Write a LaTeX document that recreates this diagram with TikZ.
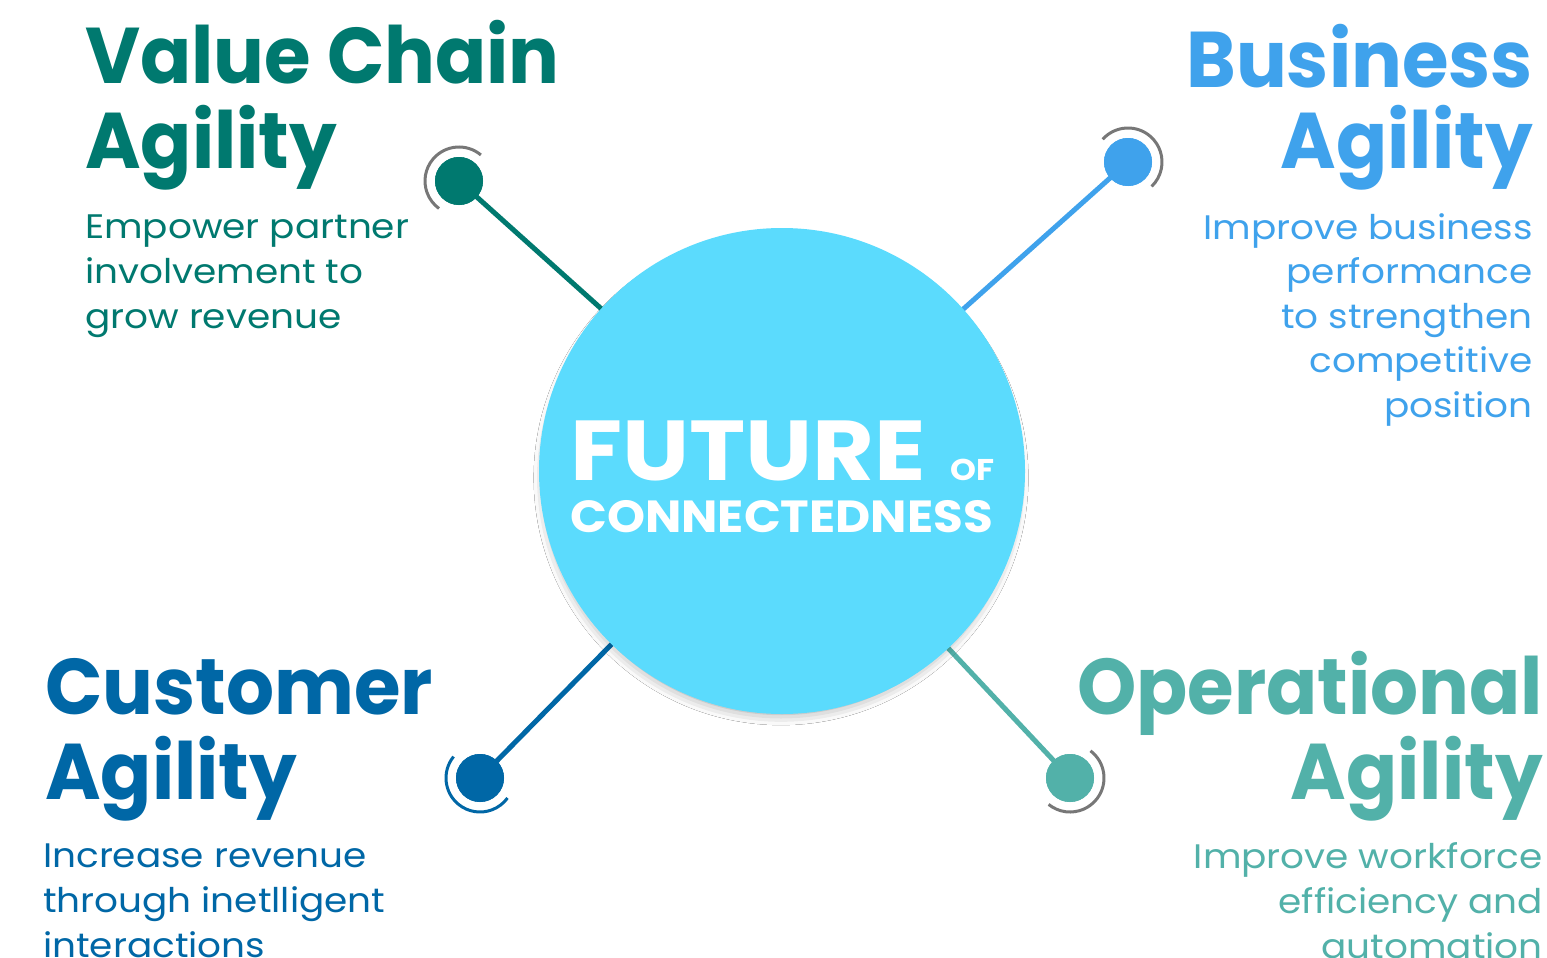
\documentclass[tikz,border=0pt]{standalone}
\usepackage{fontspec}
\setmainfont{Poppins}
\usetikzlibrary{shadows.blur,calc}
\definecolor{cTL}{HTML}{00796F}
\definecolor{cTR}{HTML}{3FA2EC}
\definecolor{cBL}{HTML}{0067A6}
\definecolor{cBR}{HTML}{52B1A9}
\definecolor{hub}{HTML}{5BDBFD}
\definecolor{ring}{HTML}{777777}
\newcommand{\hdx}[1]{\scalebox{0.955}[1]{#1}}
\newcommand{\bdx}[1]{\scalebox{1.1}[1]{#1}}
\tikzset{
  head/.style={inner sep=0pt, font=\fontsize{79}{79}\selectfont\bfseries},
  body/.style={inner sep=0pt, font=\fontsize{34}{45}\selectfont},
  dotnode/.style={circle, inner sep=0pt, minimum size=48pt, fill=#1},
  spoke/.style={line width=5pt, draw=#1},
  ringarc/.style={line width=3pt, draw=#1},
  hubtext/.style={inner sep=0pt, text=white},
}
\begin{document}
\begin{tikzpicture}[x=1pt,y=-1pt]
\useasboundingbox (0,0) rectangle (1547,958);
\fill[white] (0,0) rectangle (1547,958);
% hub position
\coordinate (hc) at (782,471);
% dots
\node[dotnode=cTL] (dTL) at (459,181) {};
\node[dotnode=cTR] (dTR) at (1128,162) {};
\node[dotnode=cBL] (dBL) at (480,778) {};
\node[dotnode=cBR] (dBR) at (1070,778) {};
% spokes
\draw[spoke=cTL] (dTL.center) -- (hc);
\draw[spoke=cTR] (dTR.center) -- (hc);
\draw[spoke=cBL] (dBL.center) -- (hc);
\draw[spoke=cBR] (dBR.center) -- (hc);
% hub
\node[circle, fill=hub, minimum size=486pt, inner sep=0pt,
  blur shadow={shadow scale=0.97, shadow xshift=-1pt, shadow yshift=-7pt, shadow blur radius=12pt, shadow opacity=40}] (hub) at (hc) {};
% redraw dots on top
\node[dotnode=cTL] at (dTL.center) {};
\node[dotnode=cTR] at (dTR.center) {};
\node[dotnode=cBL] at (dBL.center) {};
\node[dotnode=cBR] at (dBR.center) {};
% rings
\draw[ringarc=ring] ([shift={(-50:34)}]dTL.center) arc[start angle=-50, end angle=-234, radius=34];
\draw[ringarc=ring] ([shift={(-138:34)}]dTR.center) arc[start angle=-138, end angle=46, radius=34];
\draw[ringarc=cBL] ([shift={(-141:34)}]dBL.center) arc[start angle=-141, end angle=-324, radius=34];
\draw[ringarc=ring] ([shift={(-53:34)}]dBR.center) arc[start angle=-53, end angle=129, radius=34];
% hub text
\node[hubtext, anchor=base west, font=\fontsize{85}{85}\selectfont\bfseries] (fut) at (570,480) {\scalebox{1.12}[1]{FUTURE}};
\node[hubtext, anchor=base west, font=\fontsize{30}{30}\selectfont\bfseries] (of) at (950,480) {\scalebox{1.1}[1]{OF}};
\node[hubtext, anchor=base west, font=\fontsize{45}{45}\selectfont\bfseries] (con) at (570,532) {\scalebox{1.075}[1]{CONNECTEDNESS}};
% top-left
\node[head, text=cTL, anchor=base west] (tl1) at (85,84) {\hdx{Value Chain}};
\node[head, text=cTL, anchor=base west] (tl2) at (85,168) {\hdx{Agility}};
\node[body, text=cTL, anchor=base west] (tlb1) at (85,238) {\bdx{Empower partner}};
\node[body, text=cTL, anchor=base west] (tlb2) at (85,283) {\bdx{involvement to}};
\node[body, text=cTL, anchor=base west] (tlb3) at (85,328) {\bdx{grow revenue}};
% top-right
\node[head, text=cTR, anchor=base east] (tr1) at (1533,87) {\hdx{Business}};
\node[head, text=cTR, anchor=base east] (tr2) at (1533,168) {\hdx{Agility}};
\node[body, text=cTR, anchor=base east] (trb1) at (1533,239) {\bdx{Improve business}};
\node[body, text=cTR, anchor=base east] (trb2) at (1533,283) {\bdx{performance}};
\node[body, text=cTR, anchor=base east] (trb3) at (1533,328) {\bdx{to strengthen}};
\node[body, text=cTR, anchor=base east] (trb4) at (1533,372) {\bdx{competitive}};
\node[body, text=cTR, anchor=base east] (trb5) at (1533,417) {\bdx{position}};
% bottom-left
\node[head, text=cBL, anchor=base west] (bl1) at (45,714) {\hdx{Customer}};
\node[head, text=cBL, anchor=base west] (bl2) at (45,799) {\hdx{Agility}};
\node[body, text=cBL, anchor=base west] (blb1) at (43,867) {\bdx{Increase revenue}};
\node[body, text=cBL, anchor=base west] (blb2) at (43,912) {\bdx{through inetlligent}};
\node[body, text=cBL, anchor=base west] (blb3) at (43,957) {\bdx{interactions}};
% bottom-right
\node[head, text=cBR, anchor=base east] (br1) at (1543,714) {\hdx{Operational}};
\node[head, text=cBR, anchor=base east] (br2) at (1543,799) {\hdx{Agility}};
\node[body, text=cBR, anchor=base east] (brb1) at (1543,868) {\bdx{Improve workforce}};
\node[body, text=cBR, anchor=base east] (brb2) at (1543,913) {\bdx{efficiency and}};
\node[body, text=cBR, anchor=base east] (brb3) at (1543,958) {\bdx{automation}};
\end{tikzpicture}
\end{document}
